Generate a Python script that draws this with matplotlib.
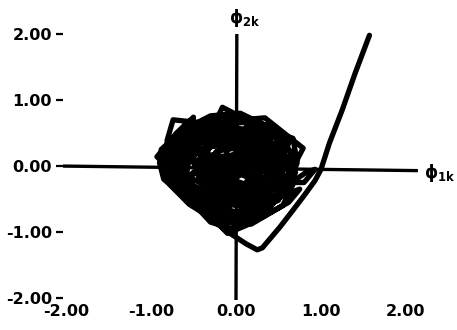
import matplotlib
matplotlib.use("Agg")
import matplotlib.pyplot as plt

# ---- data -------------------------------------------------------------
x_ticks = [-2, -1, 0, 1, 2]
x_tick_labels = ["-2.00", "-1.00", "0.00", "1.00", "2.00"]
y_ticks = [2, 1, 0, -1, -2]
y_tick_labels = ["2.00", "1.00", "0.00", "-1.00", "-2.00"]

# phase-plane axes (drawn as lines crossing at the origin)
h_axis_x = [-2.09, 2.14]
h_axis_y = [0.0, -0.07]
v_axis_x = [0.01, 0.0]
v_axis_y = [2.0, -2.07]

# trajectory (phi_1k, phi_2k)
trajectory = [
    (1.57, 1.98), (1.40, 1.40), (1.25, 0.85), (1.10, 0.35), (1.00, -0.05),
    (0.93, -0.22), (0.80, -0.45), (0.67, -0.67), (0.52, -0.92), (0.31, -1.24),
    (0.25, -1.27), (0.12, -1.18), (-0.07, -1.02),
    (-0.35, -0.75), (-0.62, -0.45), (-0.85, -0.20), (-0.90, 0.05), (-0.78, 0.30),
    (-0.60, 0.55), (-0.30, 0.70), (0.05, 0.72), (0.40, 0.55), (0.65, 0.20),
    (0.70, -0.10), (0.55, -0.45), (0.20, -0.78), (-0.15, -0.88),
    (-0.43, -0.45), (-0.75, 0.04), (-0.47, 0.55), (0.04, 0.70), (0.46, 0.44),
    (0.65, -0.02), (0.46, -0.49), (0.02, -0.83),
    (-0.49, -0.45), (-0.77, -0.03), (-0.53, 0.43), (-0.08, 0.56), (0.30, 0.34),
    (0.47, -0.08), (0.30, -0.49), (-0.09, -0.79),
    (-0.50, -0.55), (-0.82, -0.10), (-0.81, 0.39), (-0.74, 0.70), (-0.45, 0.66),
    (-0.10, 0.68), (0.34, 0.73), (0.79, 0.27), (0.62, -0.15), (0.42, -0.60),
    (0.05, -0.92), (-0.30, -0.70),
    (-0.58, -0.31), (-0.58, 0.07), (-0.38, 0.46), (0.02, 0.57), (0.34, 0.38),
    (0.48, 0.02), (0.34, -0.34), (0.00, -0.60),
    (-0.34, -0.31), (-0.65, -0.10), (-0.48, 0.24), (-0.15, 0.33), (0.13, 0.17),
    (0.25, -0.13), (0.13, -0.44), (-0.16, -0.66),
    (-0.45, -0.41), (-0.93, 0.14), (-0.70, 0.50), (-0.50, 0.74), (-0.54, 0.50),
    (-0.20, 0.78), (-0.16, 0.89), (0.20, 0.65), (0.25, 0.58), (0.67, 0.42),
    (0.72, 0.05), (0.60, -0.35), (0.27, -0.33),
    (0.04, -0.51), (-0.20, -0.31), (-0.37, -0.06), (-0.23, 0.22), (0.05, 0.30),
    (0.27, 0.16), (0.37, -0.09),
    (0.40, -0.30), (0.06, -0.13), (-0.12, -0.27), (-0.31, -0.11), (-0.44, 0.09),
    (-0.33, 0.30), (-0.12, 0.36), (0.06, 0.25), (0.14, 0.06),
    (0.16, -0.19), (0.10, -0.33), (-0.03, -0.43), (-0.16, -0.32), (-0.26, -0.18),
    (-0.18, -0.03), (-0.03, 0.02), (0.10, -0.06),
    (0.55, 0.10), (0.62, 0.35), (0.35, 0.62), (-0.05, 0.78), (-0.45, 0.62),
    (-0.72, 0.30), (-0.86, -0.05), (-0.68, -0.36), (-0.36, -0.62), (0.00, -0.72),
    (0.38, -0.62), (0.60, -0.30),
    (0.82, -0.10), (0.93, -0.05), (0.80, -0.25), (0.66, -0.25), (0.50, -0.10),
    (0.45, 0.20), (0.20, 0.45), (-0.20, 0.52), (-0.55, 0.35), (-0.68, 0.00),
    (-0.55, -0.30), (-0.25, -0.55), (0.15, -0.62), (0.48, -0.48),
    (0.75, -0.35), (0.62, -0.55), (0.30, -0.78), (0.12, -0.90), (-0.10, -1.02),
    (-0.25, -0.82), (-0.55, -0.58), (-0.78, -0.28), (-0.72, 0.15), (-0.40, 0.40),
    (-0.05, 0.45), (0.30, 0.25), (0.38, -0.10), (0.20, -0.42), (-0.10, -0.48),
    (-0.40, -0.25), (-0.50, 0.05), (-0.30, 0.15), (-0.05, 0.12), (0.10, -0.05),
    (-0.05, -0.20), (-0.30, -0.15),
    (0.60, -0.05), (0.50, 0.40), (0.10, 0.66), (-0.35, 0.62), (-0.70, 0.22),
    (-0.72, -0.25), (-0.40, -0.68), (0.10, -0.75), (0.50, -0.52),
    (0.55, 0.15), (0.25, 0.50), (-0.15, 0.60), (-0.52, 0.45), (-0.80, 0.10),
    (-0.62, -0.40), (-0.20, -0.80), (0.25, -0.70), (0.58, -0.30),
    (0.42, 0.25), (0.10, 0.50), (-0.30, 0.48), (-0.62, 0.20), (-0.60, -0.18),
    (-0.35, -0.48), (0.05, -0.60), (0.40, -0.40), (0.52, 0.00),
    (0.30, 0.40), (-0.05, 0.62), (-0.40, 0.55), (-0.60, 0.30), (-0.45, -0.05),
    (-0.15, -0.35), (0.20, -0.45), (0.45, -0.20), (0.40, 0.15),
    (0.15, 0.30), (-0.25, 0.40), (-0.50, 0.15), (-0.42, -0.25), (-0.05, -0.40),
    (0.28, -0.22), (0.32, 0.10), (0.05, 0.20),
    (-0.10, 0.15), (-0.35, 0.00), (-0.22, -0.28), (0.10, -0.30), (0.20, -0.05),
    (0.00, 0.08), (-0.20, -0.10), (-0.05, -0.18),
    (0.35, -0.55), (0.00, -0.70), (-0.35, -0.55), (-0.60, -0.20), (-0.55, 0.10),
    (-0.25, -0.10), (0.05, -0.25), (0.30, -0.35), (0.55, -0.15),
    (0.50, 0.25), (0.20, 0.65), (-0.20, 0.70), (-0.60, 0.62), (-0.75, 0.40),
    (-0.50, 0.30), (-0.20, 0.45), (0.15, 0.40), (0.40, 0.10),
    (0.68, 0.15), (0.45, 0.55), (0.05, 0.80), (-0.30, 0.76), (-0.62, 0.55),
    (-0.88, 0.25), (-0.85, -0.12), (-0.60, -0.45), (-0.25, -0.75), (0.18, -0.88),
    (0.55, -0.60),
    (0.70, -0.20), (0.60, 0.10), (0.30, 0.20), (0.00, 0.00), (-0.30, -0.30),
    (-0.45, -0.55), (-0.15, -0.62), (0.15, -0.52), (0.45, -0.45),
    (0.25, -0.65), (-0.05, -0.95), (-0.30, -0.85), (-0.55, -0.50), (-0.70, -0.05),
    (-0.55, 0.35), (-0.25, 0.60), (0.15, 0.55), (0.35, 0.25), (0.20, -0.10),
    (0.25, 0.05), (0.05, 0.35), (-0.30, 0.30), (-0.45, -0.05), (-0.30, -0.40),
    (0.00, -0.48), (0.25, -0.30), (0.30, 0.00),
    (-0.15, 0.50), (-0.45, 0.40), (-0.65, 0.05), (-0.50, -0.30), (-0.15, -0.50),
    (0.20, -0.60), (0.45, -0.35), (0.50, 0.05), (0.25, 0.35),
    (-0.10, 0.25), (-0.25, -0.45), (0.15, 0.10), (-0.38, 0.18), (0.05, -0.45),
    (0.35, 0.30), (-0.55, -0.15), (0.15, 0.62), (-0.20, -0.60), (-0.40, 0.00),
]
phi_1k = [p[0] for p in trajectory]
phi_2k = [p[1] for p in trajectory]

# ---- figure -----------------------------------------------------------
W, H = 457, 330
fig = plt.figure(figsize=(W / 100, H / 100), dpi=100)
left_px, bottom_px = 63, 300
ax = fig.add_axes([left_px / W, (H - bottom_px) / H, 1 - left_px / W, bottom_px / H])
ax.set_xlim(-2.035, 2.60)
ax.set_ylim(-2.03, 2.515)
for s in ax.spines.values():
    s.set_visible(False)

font = dict(family="DejaVu Sans", weight="bold", size=11.5)

ax.set_xticks(x_ticks)
ax.set_xticklabels(x_tick_labels, **font)
ax.set_yticks(y_ticks)
ax.set_yticklabels(y_tick_labels, **font)
ax.tick_params(axis="x", length=0, pad=3)
ax.tick_params(axis="y", length=5, width=1.6, pad=3, color="black")

ax.plot(h_axis_x, h_axis_y, color="black", lw=2.4, solid_capstyle="butt")
ax.plot(v_axis_x, v_axis_y, color="black", lw=2.4, solid_capstyle="butt")

ax.plot(phi_1k, phi_2k, color="black", lw=3.8, solid_joinstyle="round",
        solid_capstyle="round")

ax.text(0.10, 2.24, r"$\mathbf{\phi_{2k}}$", fontsize=12, ha="center", va="center")
ax.text(2.40, -0.10, r"$\mathbf{\phi_{1k}}$", fontsize=12, ha="center", va="center")

fig.savefig("out.png", dpi=100)
